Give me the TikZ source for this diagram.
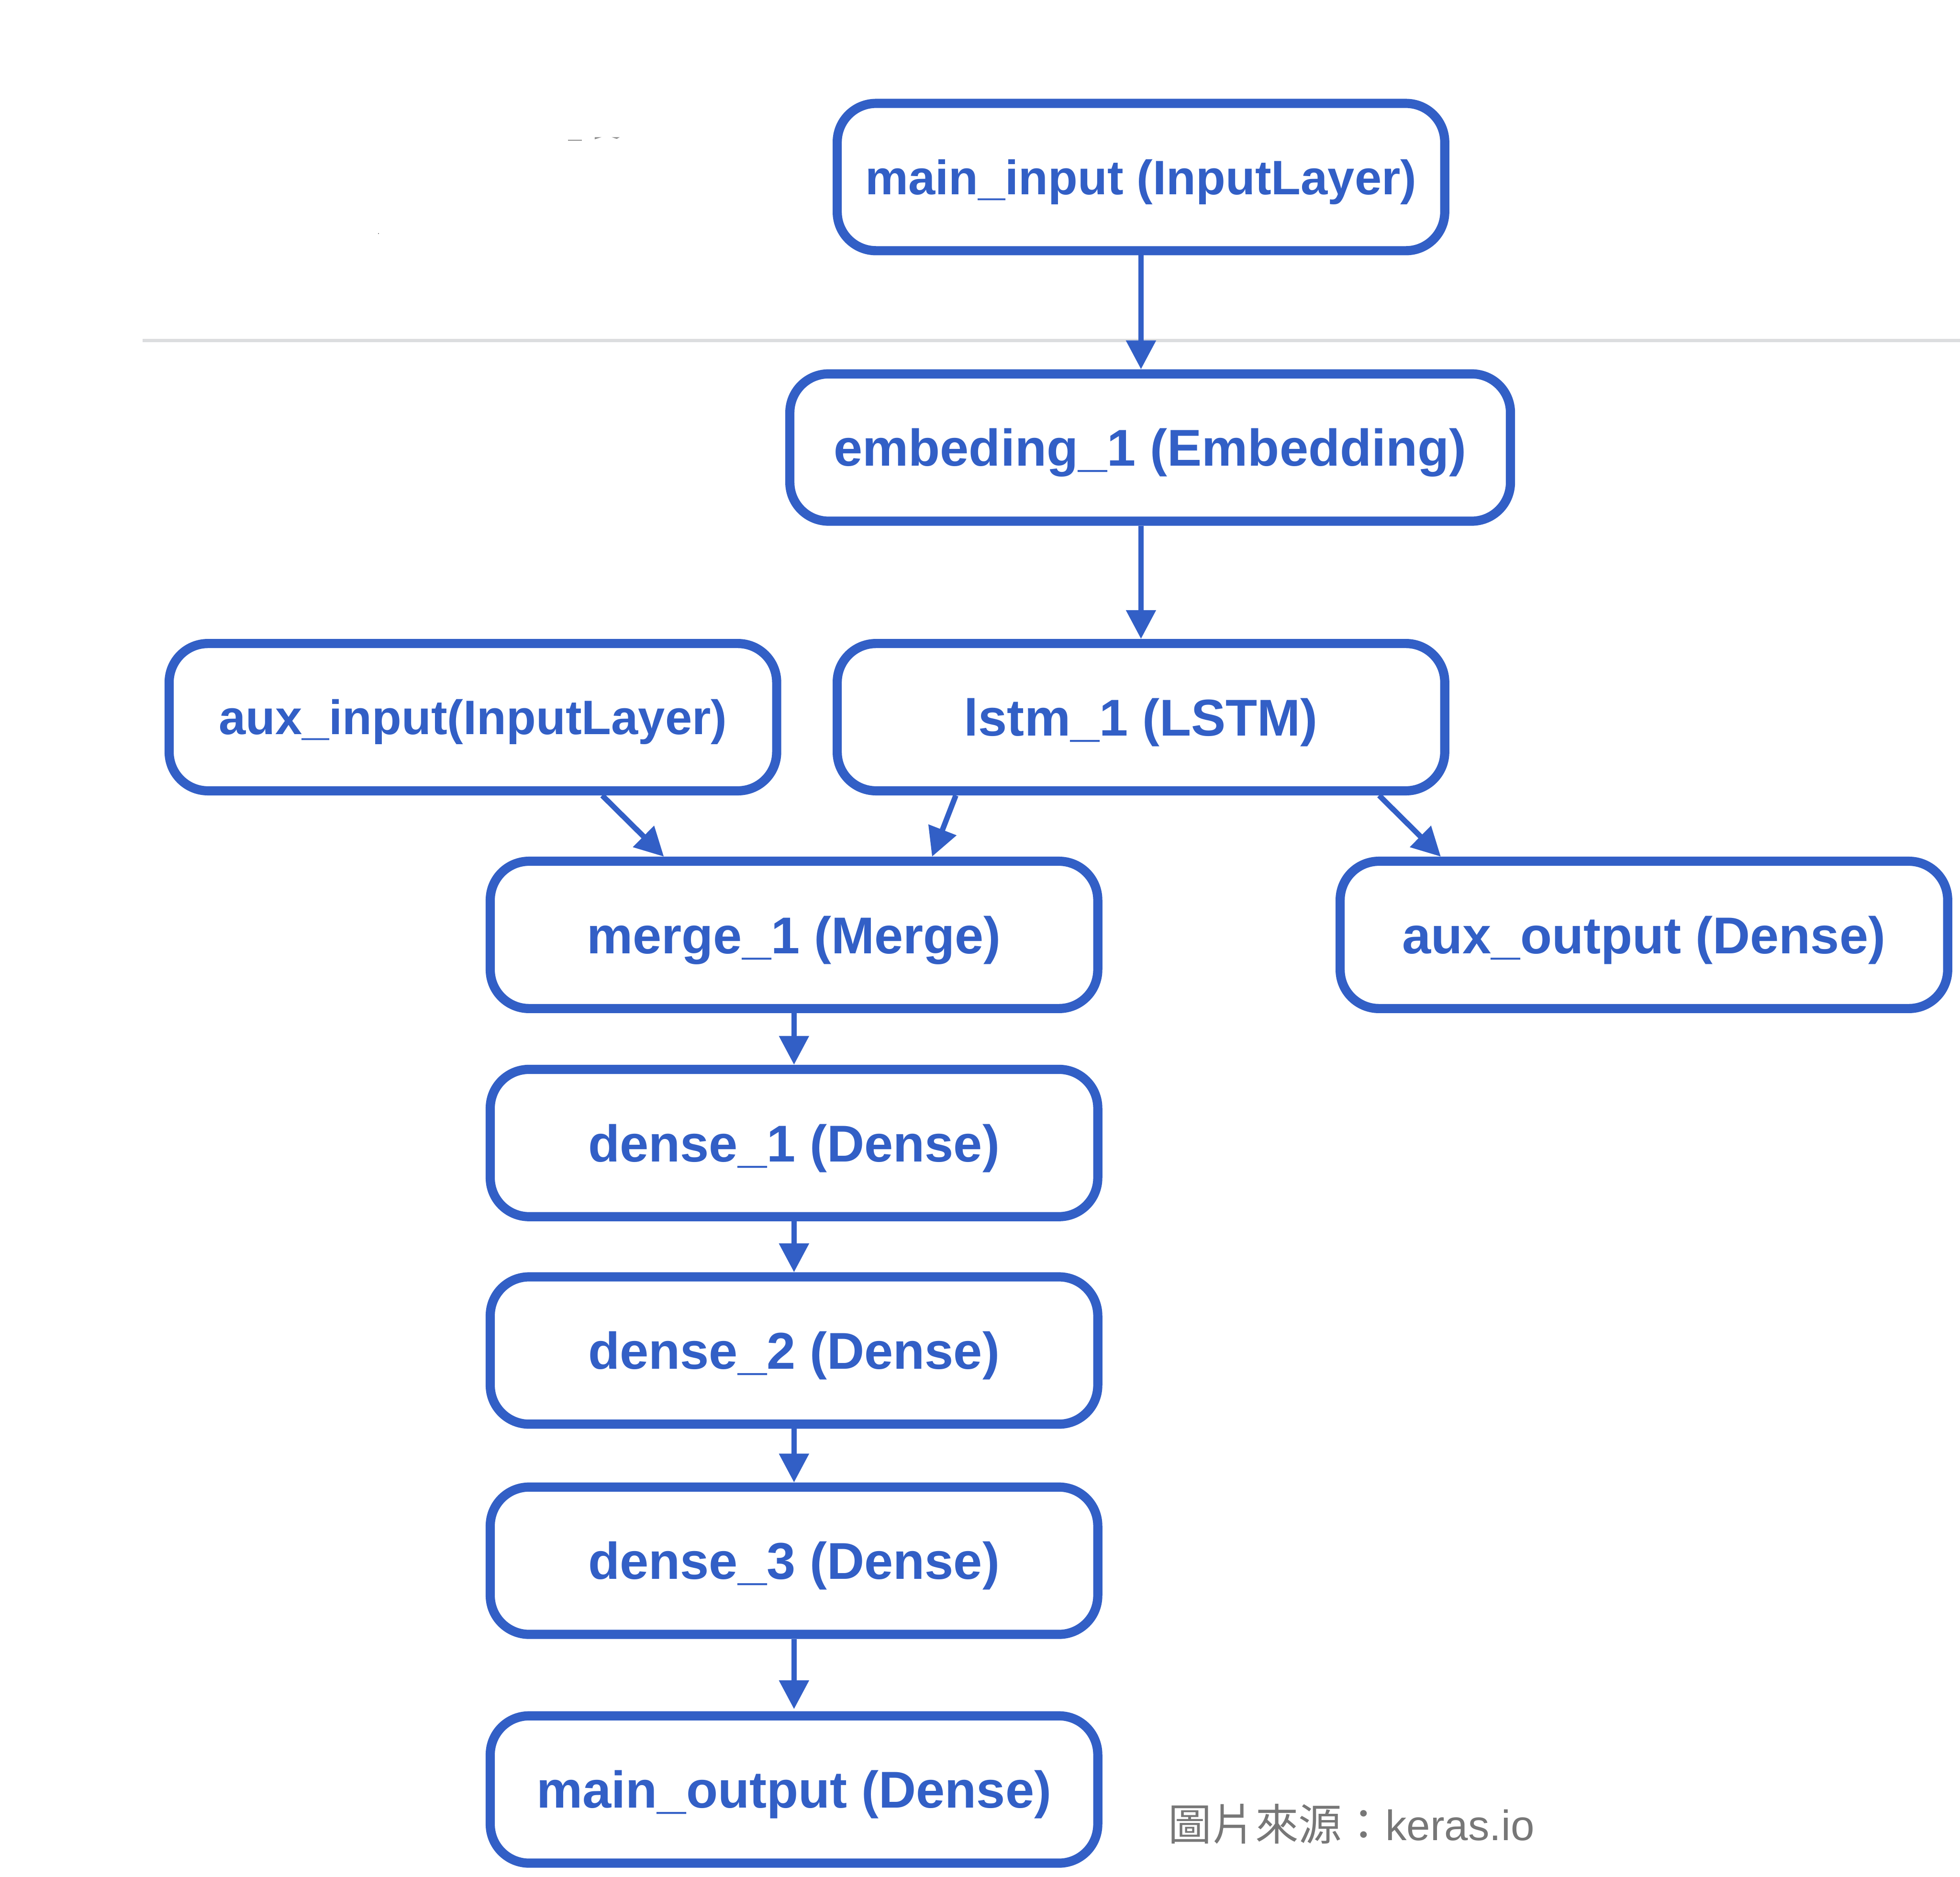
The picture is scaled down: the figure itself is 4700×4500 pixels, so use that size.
\documentclass[tikz,border=0pt]{standalone}
\usepackage{fontspec}
\setmainfont{Liberation Sans}
\newfontfamily\cjkfont{Noto Sans CJK TC}
\usetikzlibrary{arrows.meta,calc}
\definecolor{kblue}{RGB}{50,95,198}
\definecolor{kgrey}{RGB}{119,119,119}
\definecolor{kline}{RGB}{220,221,223}
\begin{document}
\begin{tikzpicture}[x=0.01cm, y=-0.01cm,
  layer/.style={draw=kblue, line width=0.22cm, rounded corners=0.93cm, fill=white,
    text=kblue, font=\bfseries\fontsize{35.3pt}{40pt}\selectfont,
    minimum width=14.56cm, minimum height=3.53cm, inner sep=0pt,
    text height=0.89cm, text depth=0pt},
  smalltxt/.style={font=\bfseries\fontsize{33pt}{38pt}\selectfont, text height=0.83cm},
  flow/.style={draw=kblue, line width=0.13cm, -{Triangle[length=0.69cm,width=0.69cm]}},
  speck/.style={fill=black!45, draw=none}
]
\useasboundingbox (0,0) rectangle (4700,4500);

% faint separator line
\draw[kline, line width=0.08cm] (342,816) -- (4700,816);

% faint specks
\fill[speck] (1362,335.5) rectangle (1395,337.5);
\fill[speck] (1426,329) -- (1442,329) -- (1426,334) -- cycle;
\fill[speck] (1467,329) -- (1486,329) -- (1479,333) -- cycle;
\fill[speck] (907,559) rectangle (909,561);

% layers
\node[layer, smalltxt] (maininput) at (2736,424.5) {main\_input (InputLayer)};
\node[layer, minimum width=17.27cm] (embed) at (2758,1073) {embeding\_1 (Embedding)};
\node[layer, smalltxt] (auxinput) at (1134,1719.5) {aux\_input(InputLayer)};
\node[layer] (lstm) at (2736,1719.5) {lstm\_1 (LSTM)};
\node[layer] (merge) at (1904,2241.5) {merge\_1 (Merge)};
\node[layer] (auxout) at (3942,2241.5) {aux\_output (Dense)};
\node[layer] (dense1) at (1904,2740.5) {dense\_1 (Dense)};
\node[layer] (dense2) at (1904,3238) {dense\_2 (Dense)};
\node[layer] (dense3) at (1904,3742) {dense\_3 (Dense)};
\node[layer] (mainout) at (1904,4290.5) {main\_output (Dense)};

% connectors
\draw[flow] (maininput.south) -- (maininput.south |- embed.north);
\draw[flow] (lstm.north |- embed.south) -- (lstm.north);
\draw[flow] ($(auxinput.south)+(310,0)$) -- ($(merge.north)+(-312,0)$);
\draw[flow] ($(lstm.south)+(-444,0)$) -- ($(merge.north)+(331,0)$);
\draw[flow] ($(lstm.south)+(571,0)$) -- ($(auxout.north)+(-487,0)$);
\draw[flow] (merge.south) -- (dense1.north);
\draw[flow] (dense1.south) -- (dense2.north);
\draw[flow] (dense2.south) -- (dense3.north);
\draw[flow] (dense3.south) -- ($(mainout.north)+(0,-5)$);

% source caption
\node[anchor=base west, inner sep=0pt, text=kgrey] (src) at (2801,4413)
  {{\cjkfont\fontsize{29.6pt}{34pt}\selectfont 圖片來源：}{\fontsize{29pt}{34pt}\selectfont keras.io}};
\end{tikzpicture}
\end{document}
